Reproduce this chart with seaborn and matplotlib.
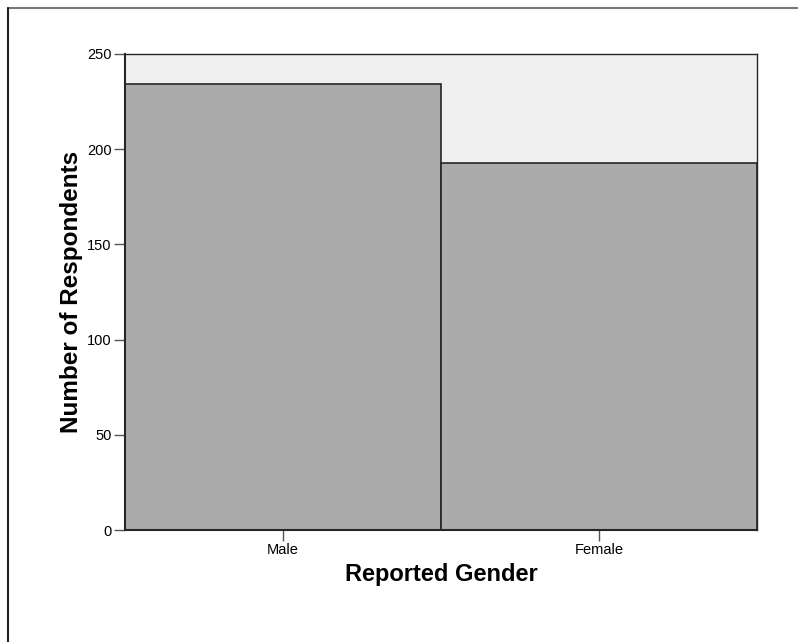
import matplotlib
matplotlib.use('agg')
import matplotlib.pyplot as plt
import seaborn as sns
import pandas as pd
from matplotlib.lines import Line2D

sns.set_style('white')
plt.rcParams['font.family'] = ['Liberation Sans', 'DejaVu Sans']

# data
genders = ['Male', 'Female']
counts = [234, 193]
yticks = [0, 50, 100, 150, 200, 250]

df = pd.DataFrame({'gender': genders, 'count': counts})

fig = plt.figure(figsize=(7.98, 6.42), dpi=100)
ax = fig.add_axes([125 / 798, 1 - 530 / 642, 632 / 798, 476 / 642])
ax.set_facecolor('#F0F0F0')

sns.barplot(data=df, x='gender', y='count', order=genders, width=1.0,
            color='#ABABAB', saturation=1, edgecolor='#262626',
            linewidth=1.2, ax=ax)

ax.set_xlim(-0.5, 1.5)
ax.set_ylim(0, 250)
ax.set_yticks(yticks)
for s in ax.spines.values():
    s.set_color('#262626')
    s.set_linewidth(1.0)
ax.spines['left'].set_linewidth(1.5)
ax.spines['bottom'].set_linewidth(1.5)

ax.tick_params(axis='both', which='both', direction='out', length=8,
               width=1, color='#555555', labelsize=10.5, pad=1.5,
               labelcolor='black', left=True, bottom=True)
ax.set_xlabel('Reported Gender', fontsize=17, fontweight='bold',
              color='black', labelpad=4)
ax.set_ylabel('Number of Respondents', fontsize=17.5, fontweight='bold',
              color='black', labelpad=3)

# outer frame (top and left edges only visible in the crop)
fig.add_artist(Line2D([7.5 / 798, 1], [1 - 7.5 / 642, 1 - 7.5 / 642],
                      transform=fig.transFigure, color='#777777', lw=1.5))
fig.add_artist(Line2D([7.5 / 798, 7.5 / 798], [0, 1 - 7.5 / 642],
                      transform=fig.transFigure, color='#222222', lw=1.5))

fig.savefig('out.png', dpi=100)
